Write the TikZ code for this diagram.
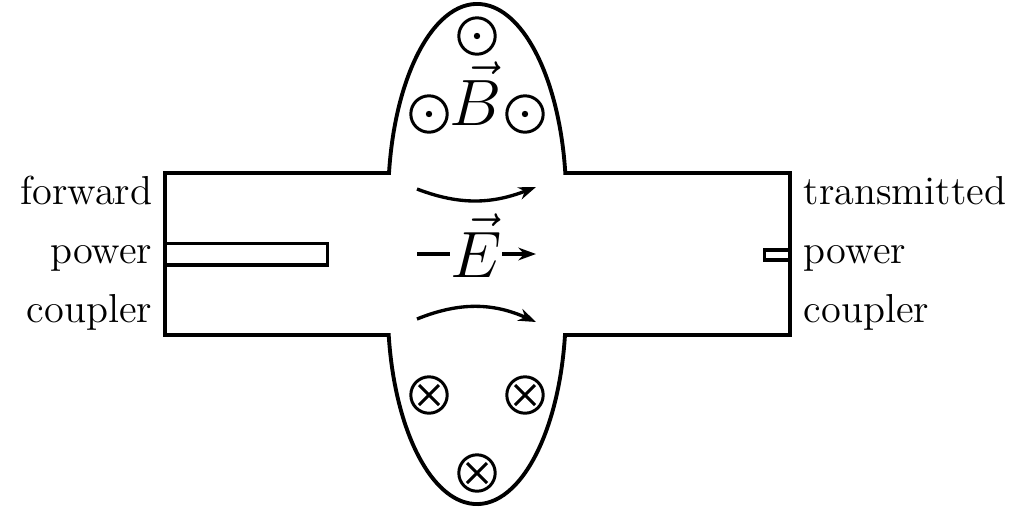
\documentclass[tikz,border=0pt]{standalone}
\usetikzlibrary{arrows.meta}

\begin{document}
\begin{tikzpicture}[
      lab/.style={font=\fontsize{11.5}{14}\selectfont, inner sep=0pt},
      fld/.style={font=\fontsize{17.28}{20}\selectfont, scale=1.08, inner sep=0pt, anchor=base},
      wall/.style={draw, line width=1.1pt},
      cpl/.style={rectangle, draw, line width=1.1pt, inner sep=0pt, outer sep=0pt},
      bout/.style={circle, draw, line width=0.85pt, minimum size=0.364cm, inner sep=0pt,
        path picture={\fill (path picture bounding box.center) circle (0.032);}},
      bin/.style={circle, draw, line width=0.85pt, minimum size=0.364cm, inner sep=0pt,
        path picture={\draw[line width=0.85pt]
          ([shift={(-0.1,-0.1)}]path picture bounding box.center) -- ++(0.2,0.2)
          ([shift={(-0.1,0.1)}]path picture bounding box.center) -- ++(0.2,-0.2);}},
      earr/.style={-{Stealth[length=5pt, width=3.6pt, inset=1.6pt]}, draw, line width=0.95pt}
    ]
    \useasboundingbox (0,0) rectangle (10.1,5.1);
    % === Cavity outline ===
    \draw[wall] (1.65,3.37) -- (3.89,3.37)
    arc[start angle=172.1, end angle=7.9, x radius=0.89, y radius=1.96]
    -- (7.9,3.37) -- (7.9,1.75) -- (5.65,1.75)
    arc[start angle=-7.9, end angle=-172.1, x radius=0.89, y radius=1.96]
    -- (1.65,1.75) -- cycle;
    % === Couplers ===
    \node[cpl, anchor=west, minimum width=1.625cm, minimum height=0.218cm] (fwd) at (1.65,2.556) {};
    \node[cpl, anchor=east, minimum width=0.255cm, minimum height=0.10cm] (trn) at (7.9,2.55) {};
    % === Labels ===
    \node[lab, anchor=base east] (l1) at (1.53,3.06) {forward};
    \node[lab, anchor=base east] (l2) at (1.53,2.465) {power};
    \node[lab, anchor=base east] (l3) at (1.53,1.88) {coupler};
    \node[lab, anchor=base west] (r1) at (8.03,3.06) {transmitted};
    \node[lab, anchor=base west] (r2) at (8.03,2.465) {power};
    \node[lab, anchor=base west] (r3) at (8.03,1.88) {coupler};
    % === Magnetic field ===
    \node[fld] (magB) at (4.76,3.85) {$\vec{B}$};
    \node[bout] (b1) at (4.77,4.74) {};
    \node[bout] (b2) at (4.29,3.96) {};
    \node[bout] (b3) at (5.25,3.96) {};
    \node[bin] (b4) at (4.29,1.15) {};
    \node[bin] (b5) at (5.25,1.15) {};
    \node[bin] (b6) at (4.77,0.37) {};
    % === Electric field ===
    \node[fld] (elE) at (4.76,2.33) {$\vec{E}$};
    \coordinate (e1) at (4.17,2.56);
    \coordinate (e2) at (5.36,2.56);
    \coordinate (t1) at (4.17,3.21);
    \coordinate (t2) at (5.36,3.23);
    \coordinate (u1) at (4.17,1.91);
    \coordinate (u2) at (5.36,1.88);
    \draw[line width=0.95pt] (e1) -- (e1 -| elE.west);
    \draw[earr] (e2 -| elE.east) -- (e2);
    \draw[earr] (t1) to[out=-21, in=201] (t2);
    \draw[earr] (u1) to[out=22, in=156] (u2);
  \end{tikzpicture}
\end{document}
